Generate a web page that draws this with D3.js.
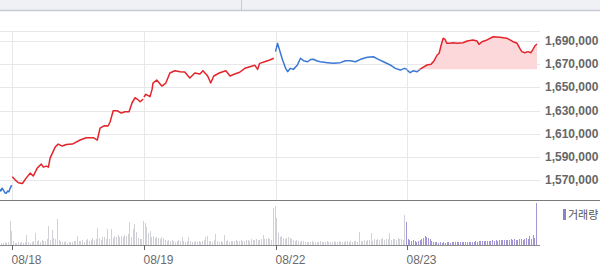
<!DOCTYPE html>
<meta charset="utf-8">
<head>
  <title>intraday price</title>
  <style>
    body { margin: 0; background: #fff; }
    svg { display: block; }
  </style>
</head>

<script src="https://cdn.jsdelivr.net/npm/d3@7"></script>

<div id="chart"></div>

<script>

// trading days shown (each session is 390 minutes, 09:00-15:30)
var days = ["08/17", "08/18", "08/19", "08/22", "08/23"];

// price points per day: [minute of session, price]
var p0817 = [[352,1562000],[356,1560500],[360,1563000],[364,1561000],[368,1559000],[372,1558500],
  [376,1560500],[380,1559800],[384,1563000],[388,1565600]];
var p0818 = [[0,1572800],[9,1569900],[18,1567600],[30,1567000],[41,1571600],[53,1575900],[62,1573400],
  [74,1580300],[86,1583700],[92,1581100],[101,1582000],[107,1581100],[112,1588900],[127,1598400],
  [136,1601000],[148,1599300],[160,1600700],[178,1601000],[201,1604500],[219,1606500],[240,1606500],
  [252,1604500],[260,1614800],[272,1616800],[284,1616600],[290,1620300],[299,1629800],[311,1629800],
  [323,1627800],[334,1628900],[346,1628900],[355,1636700],[364,1641000],[370,1639900],[379,1637600],
  [388,1639900]];
var p0819 = [[0,1641600],[6,1644000],[18,1641900],[24,1648000],[27,1653700],[38,1656300],[53,1651100],
  [65,1653700],[77,1662400],[92,1664300],[107,1663500],[121,1663200],[136,1658000],[151,1662400],
  [166,1661500],[175,1664300],[189,1659800],[198,1653700],[207,1659800],[225,1662600],[243,1664300],
  [255,1659800],[269,1661500],[284,1663000],[299,1666400],[314,1667800],[329,1669000],[337,1665500],
  [343,1670700],[358,1672100],[373,1673600],[385,1675100]];
var p0822 = [[0,1680800],[6,1688000],[12,1682200],[21,1673600],[30,1666400],[36,1663500],[44,1666400],
  [53,1665500],[65,1669300],[74,1675100],[83,1673000],[95,1672100],[104,1674000],[112,1674200],
  [124,1672700],[133,1672100],[154,1671300],[172,1670700],[192,1671300],[207,1673000],[222,1673000],
  [237,1672100],[252,1674200],[272,1675900],[290,1676400],[305,1674200],[320,1672100],[340,1669300],
  [355,1666400],[370,1664900],[382,1666400],[390,1665500]];
var p0823 = [[0,1664900],[9,1662600],[18,1664300],[30,1663500],[38,1665500],[47,1667300],[59,1669300],
  [71,1669900],[80,1673000],[89,1677900],[95,1679400],[101,1686500],[107,1692300],[112,1691500],
  [118,1688000],[127,1688000],[136,1688500],[148,1688000],[166,1688500],[178,1690000],[195,1690900],
  [207,1690000],[213,1687100],[222,1689400],[237,1690900],[255,1693700],[275,1693200],[296,1692300],
  [305,1690900],[314,1689400],[326,1688000],[334,1683700],[340,1680800],[349,1679900],[358,1680800],
  [367,1679900],[373,1682800],[379,1685900],[385,1687400]];
var prevClose0816 = 1570000;

var priceTicks = [1690000, 1670000, 1650000, 1630000, 1610000, 1590000, 1570000];

// volume per 5-minute bucket (first bucket index given for the partial day)
var v0817Start = 71;
var v0817 = [20,25,18,30,22,28,240];
var v0818 = [140,40,25,20,30,25,35,20,30,100, 30,25,35,40,120,45,50,35,55,40,
  45,60,190,50,150,70,60,260,55,40, 35,30,40,25,30,35,30,40,45,90,
  40,45,55,35,50,60,45,55,70,50, 60,170,70,55,80,85,60,160,65,160,
  70,90,85,100,80,95,85,100,90,110, 230,80,160,210,130,70,60,65];
var v0819 = [240,220,180,120,140,80,90,70,85,75, 60,80,70,50,45,55,40,50,45,35,
  40,50,45,85,40,35,45,80,40,35, 30,40,35,45,30,40,50,85,90,45,
  40,35,50,110,40,35,45,30,100,40, 50,35,40,45,40,50,45,40,55,45,
  40,50,55,45,60,50,55,60,50,55, 65,100,60,65,70,60,55,370];
var v0822 = [390,270,120,80,90,70,60,75,85,70, 60,55,45,50,40,35,45,40,35,30,
  35,30,40,35,30,35,30,40,35,30, 35,40,30,35,30,40,35,30,40,35,
  30,35,40,45,35,40,30,45,40,35, 130,40,45,50,40,55,50,120,45,60,
  55,65,50,60,70,55,65,60,120,55, 60,65,55,70,60,65,55,300];
var v0823 = [230,60,50,40,55,45,35,40,50,60, 75,90,85,70,60,40,35,30,30,25,
  30,25,30,25,30,28,25,30,28,30, 30,32,28,30,35,30,32,30,35,33,
  35,38,35,40,38,42,40,45,42,40, 45,48,42,50,45,55,50,48,55,52,
  50,55,60,52,58,55,50,60,65,55, 60,70,65,90,60,100,70,420];

var priceDays = [p0817, p0818, p0819, p0822, p0823];
var volDays = [v0817, v0818, v0819, v0822, v0823];
var volStarts = [v0817Start, 0, 0, 0, 0];

var width = 600, height = 278;
var plotRight = 540, priceTop = 31, panelLine = 200, volBase = 245;
var red = "#e3242b", blue = "#3a78d4";

var svg = d3.select("#chart")
  .append("svg")
    .attr("width", width)
    .attr("height", height);

// top toolbar strip
svg.append("rect").attr("x", 0).attr("y", 0).attr("width", width).attr("height", 10).attr("fill", "#eff1f5");
svg.append("line").attr("x1", 0).attr("x2", width).attr("y1", 10.5).attr("y2", 10.5)
  .attr("stroke", "#c8cbd3").attr("stroke-width", 1.5);
svg.append("line").attr("x1", 241.5).attr("x2", 241.5).attr("y1", 0).attr("y2", 10)
  .attr("stroke", "#c8cbd3");

// scales
var dayW = 131.6;
var x = d3.scaleLinear()
  .domain([0, days.length * 390])
  .range([12.3 - dayW, 12.3 + (days.length - 1) * dayW]);
var y = d3.scaleLinear().domain([1570000, 1690000]).range([180, 41]);
var yv = d3.scaleLinear().domain([0, 420]).range([volBase, 203]);

function xt(d, m) { return x(d * 390 + m); }

// grid
var grid = svg.append("g").attr("stroke", "#e8e8eb").attr("shape-rendering", "crispEdges");
grid.append("line").attr("x1", 0).attr("x2", plotRight).attr("y1", priceTop).attr("y2", priceTop);
priceTicks.forEach(function(v) {
  grid.append("line").attr("x1", 0).attr("x2", plotRight)
    .attr("y1", Math.round(y(v))).attr("y2", Math.round(y(v)));
});
for (var d = 1; d < days.length; d++) {
  grid.append("line").attr("x1", Math.round(xt(d, 0))).attr("x2", Math.round(xt(d, 0)))
    .attr("y1", priceTop).attr("y2", panelLine);
}

// clip
var defs = svg.append("defs");
defs.append("clipPath").attr("id", "plot")
  .append("rect").attr("x", 0).attr("y", priceTop).attr("width", plotRight).attr("height", volBase - priceTop);

var base = p0822[p0822.length - 1][1];
defs.append("clipPath").attr("id", "above")
  .append("rect").attr("x", 0).attr("y", 0).attr("width", plotRight).attr("height", y(base));
defs.append("clipPath").attr("id", "below")
  .append("rect").attr("x", 0).attr("y", y(base)).attr("width", plotRight).attr("height", volBase - y(base));

var plot = svg.append("g").attr("clip-path", "url(#plot)");

// volume bars
volDays.forEach(function(vals, d) {
  var last = d === volDays.length - 1;
  plot.append("g")
    .attr("shape-rendering", "crispEdges")
    .selectAll("rect")
    .data(vals)
    .enter()
    .append("rect")
      .attr("x", function(v, i) { return Math.round(xt(d, (volStarts[d] + i) * 5)) - 1; })
      .attr("width", 1)
      .attr("y", function(v) { return yv(v); })
      .attr("height", function(v) { return volBase - yv(v); })
      .attr("fill", last ? "#a496d6" : "#d0d2d8");
});

// price lines
var line = function(d) {
  return d3.line()
    .x(function(p) { return xt(d, p[0]); })
    .y(function(p) { return y(p[1]); });
};

var lastDay = priceDays.length - 1;
priceDays.forEach(function(pts, d) {
  if (d === lastDay) return;
  var prev = d === 0 ? prevClose0816 : priceDays[d - 1][priceDays[d - 1].length - 1][1];
  var close = pts[pts.length - 1][1];
  plot.append("path")
    .datum(pts)
    .attr("fill", "none")
    .attr("stroke", close >= prev ? red : blue)
    .attr("stroke-width", 1.5)
    .attr("stroke-linejoin", "round")
    .attr("d", line(d));
});

// current day: pink area above previous close, line split at that level
var area = d3.area()
  .x(function(p) { return xt(lastDay, p[0]); })
  .y0(y(base))
  .y1(function(p) { return y(p[1]); });
plot.append("g").attr("clip-path", "url(#above)")
  .append("path").datum(p0823).attr("fill", "#fdd8da").attr("d", area);
plot.append("g").attr("clip-path", "url(#above)")
  .append("path").datum(p0823).attr("fill", "none").attr("stroke", red)
  .attr("stroke-width", 1.5).attr("stroke-linejoin", "round").attr("d", line(lastDay));
plot.append("g").attr("clip-path", "url(#below)")
  .append("path").datum(p0823).attr("fill", "none").attr("stroke", blue)
  .attr("stroke-width", 1.5).attr("stroke-linejoin", "round").attr("d", line(lastDay));

// panel separator and volume baseline
svg.append("line").attr("x1", 0).attr("x2", width).attr("y1", panelLine + 0.5).attr("y2", panelLine + 0.5)
  .attr("stroke", "#7b7b7b");
svg.append("line").attr("x1", 0).attr("x2", plotRight).attr("y1", volBase + 0.5).attr("y2", volBase + 0.5)
  .attr("stroke", "#8a8a8a");

// day ticks and labels
for (var d = 1; d < days.length; d++) {
  var xd = Math.round(xt(d, 0)) + 0.5;
  svg.append("line").attr("x1", xd).attr("x2", xd).attr("y1", volBase).attr("y2", volBase + 5)
    .attr("stroke", "#666");
  svg.append("text")
    .attr("x", xd - 1)
    .attr("y", 264)
    .style("font-family", "'Liberation Sans', Arial, sans-serif")
    .style("font-size", "12px")
    .style("fill", "#6b6b6b")
    .text(days[d]);
}

// price labels
priceTicks.forEach(function(v) {
  svg.append("text")
    .attr("x", 545)
    .attr("y", y(v) + 4)
    .style("font-family", "'Liberation Sans', Arial, sans-serif")
    .style("font-size", "12px")
    .style("font-weight", "bold")
    .style("fill", "#666")
    .text(d3.format(",")(v));
});

// legend
svg.append("rect").attr("x", 563).attr("y", 209).attr("width", 3).attr("height", 11).attr("fill", "#8e7fc6");
svg.append("text")
  .attr("x", 568)
  .attr("y", 219)
  .style("font-family", "'Noto Sans CJK KR', sans-serif")
  .style("font-size", "11px")
  .style("fill", "#555")
  .text("거래량");

</script>
